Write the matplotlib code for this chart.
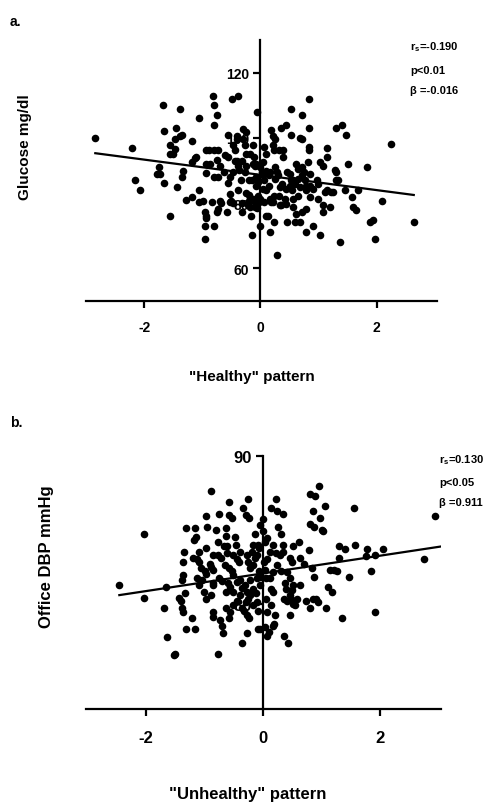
import matplotlib
matplotlib.use("Agg")
import matplotlib.pyplot as plt
import numpy as np

plt.rcParams['font.family'] = ['Liberation Sans', 'DejaVu Sans']
plt.rcParams['font.weight'] = 'bold'
plt.rcParams['mathtext.fontset'] = 'custom'
plt.rcParams['mathtext.rm'] = 'Liberation Sans:bold'
plt.rcParams['mathtext.it'] = 'Liberation Sans:bold'
plt.rcParams['mathtext.bf'] = 'Liberation Sans:bold'

# ---------------- Panel a data: "Healthy" pattern vs Glucose ----------------
healthy_x = [-2.84, -2.21, -2.15, -2.07, -1.68, -1.66, -1.75, -1.72, -1.77, -1.66, -1.55,
             -1.55, -1.56, -1.51, -1.46, -1.45, -1.46, -1.39, -1.38, -1.34, -1.44, -1.34,
             -1.33, -1.17, -1.17, -1.13, -1.10, -1.28, -1.17, -1.05, -1.06, -1.05, -0.98,
             -0.96, -0.94, -0.93, -0.95, -0.80, -0.96, -0.94, -0.88, -0.93, -0.87, -0.94,
             -0.83, -0.81, -0.79, -0.75, -0.80, -0.79, -0.72, -0.75, -0.80, -0.73, -0.70,
             -0.75, -0.72, -0.70, -0.67, -0.63, -0.61, -0.56, -0.57, -0.56, -0.53, -0.52,
             -0.53, -0.47, -0.51, -0.48, -0.38, -0.55, -0.47, -0.44, -0.40, -0.40, -0.41,
             -0.37, -0.34, -0.39, -0.32, -0.32, -0.30, -0.25, -0.30, -0.27, -0.24, -0.18,
             -0.25, -0.20, -0.14, -0.25, -0.20, -0.21, -0.17, -0.16, -0.14, -0.13, -0.11,
             -0.10, -0.07, -0.08, -0.13, -0.10, -0.06, -0.06, -0.04, -0.02, -0.01, 0.05,
             0.07, 0.09, 0.05, 0.07, 0.09, 0.10, 0.15, 0.09, 0.13, 0.16, 0.17, 0.19, 0.19,
             0.22, 0.25, 0.22, 0.23, 0.25, 0.28, 0.30, 0.23, 0.22, 0.23, 0.28, 0.32, 0.39,
             0.33, 0.36, 0.34, 0.38, 0.36, 0.44, 0.39, 0.42, 0.45, 0.46, 0.46, 0.51, 0.52,
             0.56, 0.53, 0.53, 0.55, 0.56, 0.59, 0.68, 0.61, 0.65, 0.62, 0.71, 0.65, 0.68,
             0.68, 0.71, 0.71, 0.72, 0.75, 0.76, 0.79, 0.78, 0.79, 0.78, 0.83, 0.83, 0.83,
             0.83, 0.85, 0.85, 0.90, 0.97, 0.99, 1.02, 1.03, 1.07, 1.07, 1.07, 1.11, 1.15,
             1.14, 1.15, 1.20, 1.22, 1.25, 1.28, 1.30, 1.31, 1.34, 1.30, 1.41, 1.37, 1.45,
             1.48, 1.51, 1.57, 1.60, 1.64, 1.68, 1.83, 1.89, 1.94, 1.97, 2.10, 2.24, 2.64,
             -0.13, 0.00, 0.02, -0.07, -0.04, 0.05, -0.01, -0.10, -0.17, -0.27, -0.31,
             -0.44, -0.47, -0.39, -0.20, 0.07, 0.15, 0.17, 0.25, 0.32, 0.45, 0.51, 0.59,
             0.65, 0.71, 0.82, 0.85, 0.91, 1.00, 0.56]
glucose = [100.0, 97.0, 87.0, 84.1, 110.0, 102.0, 91.0, 89.0, 89.0, 86.1, 76.0,
           97.7, 95.1, 95.1, 96.7, 103.0, 99.7, 100.6, 108.9, 101.0, 84.9, 88.0,
           90.0, 98.9, 92.6, 93.8, 94.1, 81.0, 81.8, 106.1, 84.1, 80.3, 80.8,
           77.2, 76.0, 75.4, 73.1, 73.1, 69.0, 96.2, 96.2, 92.1, 92.1, 89.3,
           80.3, 112.8, 110.0, 106.9, 103.8, 96.2, 96.2, 93.1, 88.0, 88.0, 91.5,
           77.2, 78.2, 80.8, 80.1, 89.5, 94.6, 94.1, 77.2, 86.1, 88.0, 82.8,
           80.3, 80.1, 80.7, 112.0, 112.8, 101.0, 97.7, 96.2, 100.7, 99.7, 92.8,
           90.3, 87.0, 83.9, 77.2, 80.1, 102.8, 101.8, 99.7, 97.7, 95.1, 95.1,
           91.5, 87.0, 87.0, 83.2, 82.5, 79.3, 78.8, 76.2, 70.1, 97.9, 94.1,
           91.5, 92.1, 85.4, 81.3, 80.3, 78.4, 107.9, 82.3, 80.3, 73.1, 88.5,
           87.0, 90.0, 92.6, 97.2, 95.1, 83.9, 85.4, 76.2, 76.2, 71.1, 81.3, 80.3, 102.3,
           100.7, 99.7, 97.7, 96.2, 91.0, 89.5, 88.5, 82.3, 80.3, 74.1, 64.1, 96.2, 96.2,
           79.3, 79.3, 84.9, 85.9, 103.0, 104.0, 94.1, 81.3, 79.8, 74.1, 89.5, 89.0, 87.0,
           87.0, 108.9, 101.0, 83.9, 78.8, 74.1, 74.1, 92.1, 90.5, 76.7, 77.2, 82.3, 84.9,
           99.9, 99.7, 106.9, 91.0, 89.5, 87.0, 85.4, 71.1, 78.2, 83.9, 112.0, 103.0, 97.2,
           96.2, 89.0, 81.8, 73.1, 87.0, 85.9, 70.1, 92.6, 91.5, 79.3, 77.2, 83.4, 83.9,
           94.1, 97.0, 78.8, 83.4, 83.4, 90.3, 89.5, 87.0, 87.0, 103.0, 103.8, 68.0, 83.9,
           101.0, 92.1, 81.8, 78.8, 78.0, 83.9, 91.0, 74.1, 74.9, 69.0, 80.8, 98.0, 74.1,
           92.1, 91.0, 89.5, 88.0, 86.6, 84.4, 81.3, 78.8, 81.5, 89.5, 92.8,
           92.8, 89.5, 91.5, 80.8, 80.3, 88.5, 89.5, 87.5, 82.3, 84.4, 85.4, 85.9,
           87.5, 88.5, 92.6, 85.4, 84.4, 81.3, 81.3]
line_a_x = [-2.84, 2.64]
line_a_y = [95.3, 82.5]

# ---------------- Panel b data: "Unhealthy" pattern vs Office DBP ----------------
unhealthy_x = [-2.46, -2.03, -2.03, -1.69, -1.66, -1.65, -1.53, -1.50, -1.44, -1.40, -1.39,
               -1.37, -1.39, -1.37, -1.37, -1.36, -1.32, -1.17, -1.32, -1.17, -1.34, -1.21,
               -1.20, -1.14, -1.19, -1.15, -1.10, -1.06, -1.04, -1.02, -0.98, -0.96, -1.00,
               -0.97, -0.91, -0.90, -0.90, -0.86, -0.85, -0.89, -0.85, -0.86, -0.86, -0.81,
               -0.77, -0.75, -0.77, -0.73, -0.75, -0.71, -0.74, -0.70, -0.69, -0.77, -0.67,
               -0.62, -0.63, -0.64, -0.66, -0.59, -0.58, -0.53, -0.62, -0.58, -0.54, -0.60,
               -0.56, -0.63, -0.57, -0.58, -0.51, -0.49, -0.46, -0.45, -0.41, -0.45, -0.40,
               -0.37, -0.33, -0.37, -0.34, -0.29, -0.24, -0.26, -0.27, -0.26, -0.27, -0.26,
               -0.30, -0.27, -0.24, -0.27, -0.22, -0.17, -0.22, -0.18, -0.14, -0.14, -0.11,
               -0.13, -0.10, -0.09, -0.07, -0.07, -0.04, -0.09, -0.09, -0.06, -0.01, 0.00,
               0.03, 0.01, 0.06, 0.03, 0.05, 0.05, 0.06, 0.03, 0.06, 0.10, 0.13, 0.14, 0.17,
               0.13, 0.16, 0.18, 0.20, 0.22, 0.23, 0.33, 0.22, 0.26, 0.30, 0.33, 0.31, 0.37,
               0.39, 0.35, 0.40, 0.36, 0.43, 0.45, 0.46, 0.50, 0.47, 0.51, 0.50, 0.54, 0.51,
               0.62, 0.63, 0.69, 0.74, 0.79, 0.80, 0.80, 0.86, 0.85, 0.89, 0.96, 0.97, 1.00,
               1.02, 1.06, 0.83, 0.86, 0.80, 0.85, 0.91, 0.94, 1.07, 1.11, 1.17, 1.15, 1.21,
               1.27, 1.29, 1.30, 1.40, 1.34, 1.47, 1.55, 1.57, 1.77, 1.76, 1.91, 1.84, 1.91,
               2.05, 2.75, 2.94,
               -0.51, -0.45, -0.37, -0.31, -0.23, -0.17, -0.11, -0.06, -0.20, -0.17, -0.40,
               -0.51, -0.86, -0.97, -1.09, -0.97, -1.09, -1.14, 0.11, 0.17, 0.23, 0.29,
               0.34, 0.40, 0.46, 0.51, 0.63, 0.46, 0.57, -0.40, -0.51, 0.11, 0.17, -0.06,
               0.06, -0.63]
office_dbp = [81.25, 84.7, 80.4, 79.7, 81.1, 77.7, 76.5, 76.6, 80.4, 80.2, 79.7,
              79.4, 81.6, 81.9, 82.8, 83.5, 85.1, 85.1, 78.3, 78.3, 80.7, 79.0,
              83.1, 83.0, 84.3, 84.5, 82.8, 82.4, 81.6, 80.8, 85.9, 85.2, 82.2,
              82.0, 82.7, 87.6, 80.6, 81.25, 81.4, 82.5, 82.3, 79.4, 79.1, 85.0,
              84.2, 86.1, 83.3, 83.1, 81.7, 81.5, 78.9, 78.5, 78.0, 76.6, 83.9,
              83.9, 85.1, 84.6, 82.6, 86.9, 86.0, 85.8, 83.4, 82.4, 82.2, 81.4,
              81.1, 79.7, 79.4, 79.0, 80.8, 84.5, 84.0, 83.0, 82.8, 80.2, 81.6,
              79.7, 79.5, 77.3, 86.5, 86.0, 85.8, 87.1, 83.3, 82.8, 80.8, 80.3,
              80.1, 79.2, 79.0, 78.0, 82.4, 82.6, 81.6, 81.0, 84.7, 83.1, 83.3,
              80.7, 80.1, 84.0, 83.75, 82.2, 81.8, 79.5, 78.3, 78.25, 85.75, 84.9,
              84.2, 82.8, 83.0, 82.3, 81.7, 80.3, 79.4, 78.4, 77.8, 78.1, 86.5, 81.0, 80.8,
              79.9, 78.5, 78.6, 79.2, 87.1, 86.25, 86.1, 83.4, 85.2, 84.7, 84.0, 82.2, 81.4,
              81.0, 80.3, 80.2, 77.8, 77.3, 79.2, 83.1, 82.8, 80.3, 80.0, 80.9, 79.9, 83.9,
              84.2, 83.1, 82.7, 80.2, 83.6, 87.4, 85.4, 85.2, 86.25, 87.3, 88.0, 85.8, 85.0,
              84.9, 86.6, 82.4, 81.8, 79.7, 80.3, 80.3, 80.1, 79.7, 81.1, 80.8, 82.3, 82.3,
              82.2, 83.1, 83.9, 83.7, 79.0, 81.8, 86.5, 84.0, 83.7, 83.2, 83.3, 82.2, 79.4,
              83.7, 83.0, 85.9,
              81.93, 81.48, 81.02, 81.25, 80.57, 79.89, 81.7, 81.25, 83.52, 83.98, 83.52,
              83.3, 83.3, 83.75, 83.52, 80.34, 81.25, 81.7, 81.7, 82.16, 82.61, 83.3,
              83.52, 82.16, 81.7, 81.25, 81.25, 80.57, 80.34, 80.57, 79.89, 83.52, 83.98, 85.34,
              84.43, 80.8]
line_b_x = [-2.46, 3.03]
line_b_y = [80.57, 83.86]

W, H = 500, 803
fig = plt.figure(figsize=(W / 100, H / 100), dpi=100)


def fx(px):
    return px / W


def fy(py):
    return 1 - py / H


def style_axes(ax, yticks, xlim, ylim, tick_fs, xpad):
    ax.set_xlim(*xlim)
    ax.set_ylim(*ylim)
    for s in ['top', 'right']:
        ax.spines[s].set_visible(False)
    ax.spines['left'].set_position(('data', 0))
    ax.spines['left'].set_linewidth(1.6)
    ax.spines['bottom'].set_linewidth(1.6)
    ax.set_xticks([-2, 0, 2])
    ax.set_xticklabels(['-2', '0', '2'])
    ax.set_yticks(yticks)
    ax.set_yticklabels([str(t) for t in yticks])
    ax.tick_params(axis='x', length=5, width=1.6, pad=xpad, labelsize=tick_fs)
    ax.tick_params(axis='y', length=5, width=1.6, pad=3, labelsize=tick_fs)
    for lab in ax.get_xticklabels() + ax.get_yticklabels():
        lab.set_fontweight('bold')
    ax.patch.set_visible(False)


# Panel a
ax1 = fig.add_axes([fx(86), fy(302), fx(437) - fx(86), (302 - 41) / H])
style_axes(ax1, [60, 80, 100, 120], (-3.0, 3.04), (50, 130), 10, 9)
ax1.scatter(healthy_x, glucose, s=30, c='black', linewidths=0, zorder=3)
ax1.plot(line_a_x, line_a_y, color='black', lw=1.6, zorder=4)

# Panel b
ax2 = fig.add_axes([fx(86), fy(710), fx(441) - fx(86), (710 - 457) / H])
style_axes(ax2, [80, 90], (-3.03, 3.04), (72.85, 90), 12, 10)
ax2.scatter(unhealthy_x, office_dbp, s=30, c='black', linewidths=0, zorder=3)
ax2.plot(line_b_x, line_b_y, color='black', lw=1.6, zorder=4)

# Panel letters
fig.text(fx(10), fy(22), 'a.', fontsize=10, fontweight='bold', va='center', ha='left')
fig.text(fx(10), fy(423), 'b.', fontsize=10, fontweight='bold', va='center', ha='left')

# Axis labels
fig.text(fx(25), fy(147), 'Glucose mg/dl', rotation=90, fontsize=11, fontweight='bold',
         va='center', ha='center')
fig.text(fx(252), fy(377), '"Healthy" pattern', fontsize=11, fontweight='bold',
         va='center', ha='center')
fig.text(fx(47), fy(557), 'Office DBP mmHg', rotation=90, fontsize=12, fontweight='bold',
         va='center', ha='center')
fig.text(fx(248), fy(795), '"Unhealthy" pattern', fontsize=12, fontweight='bold',
         va='center', ha='center')

# Statistics annotations
for y, t in zip([47, 71, 91], [r'r$_{s}$=-0.190', 'p<0.01', 'β =-0.016']):
    fig.text(fx(410), fy(y), t, fontsize=8, fontweight='bold', va='center', ha='left')
for y, t in zip([460, 483, 503], [r'r$_{s}$=0.130', 'p<0.05', 'β =0.911']):
    fig.text(fx(439), fy(y), t, fontsize=8, fontweight='bold', va='center', ha='left')

fig.savefig('out.png', dpi=100)
